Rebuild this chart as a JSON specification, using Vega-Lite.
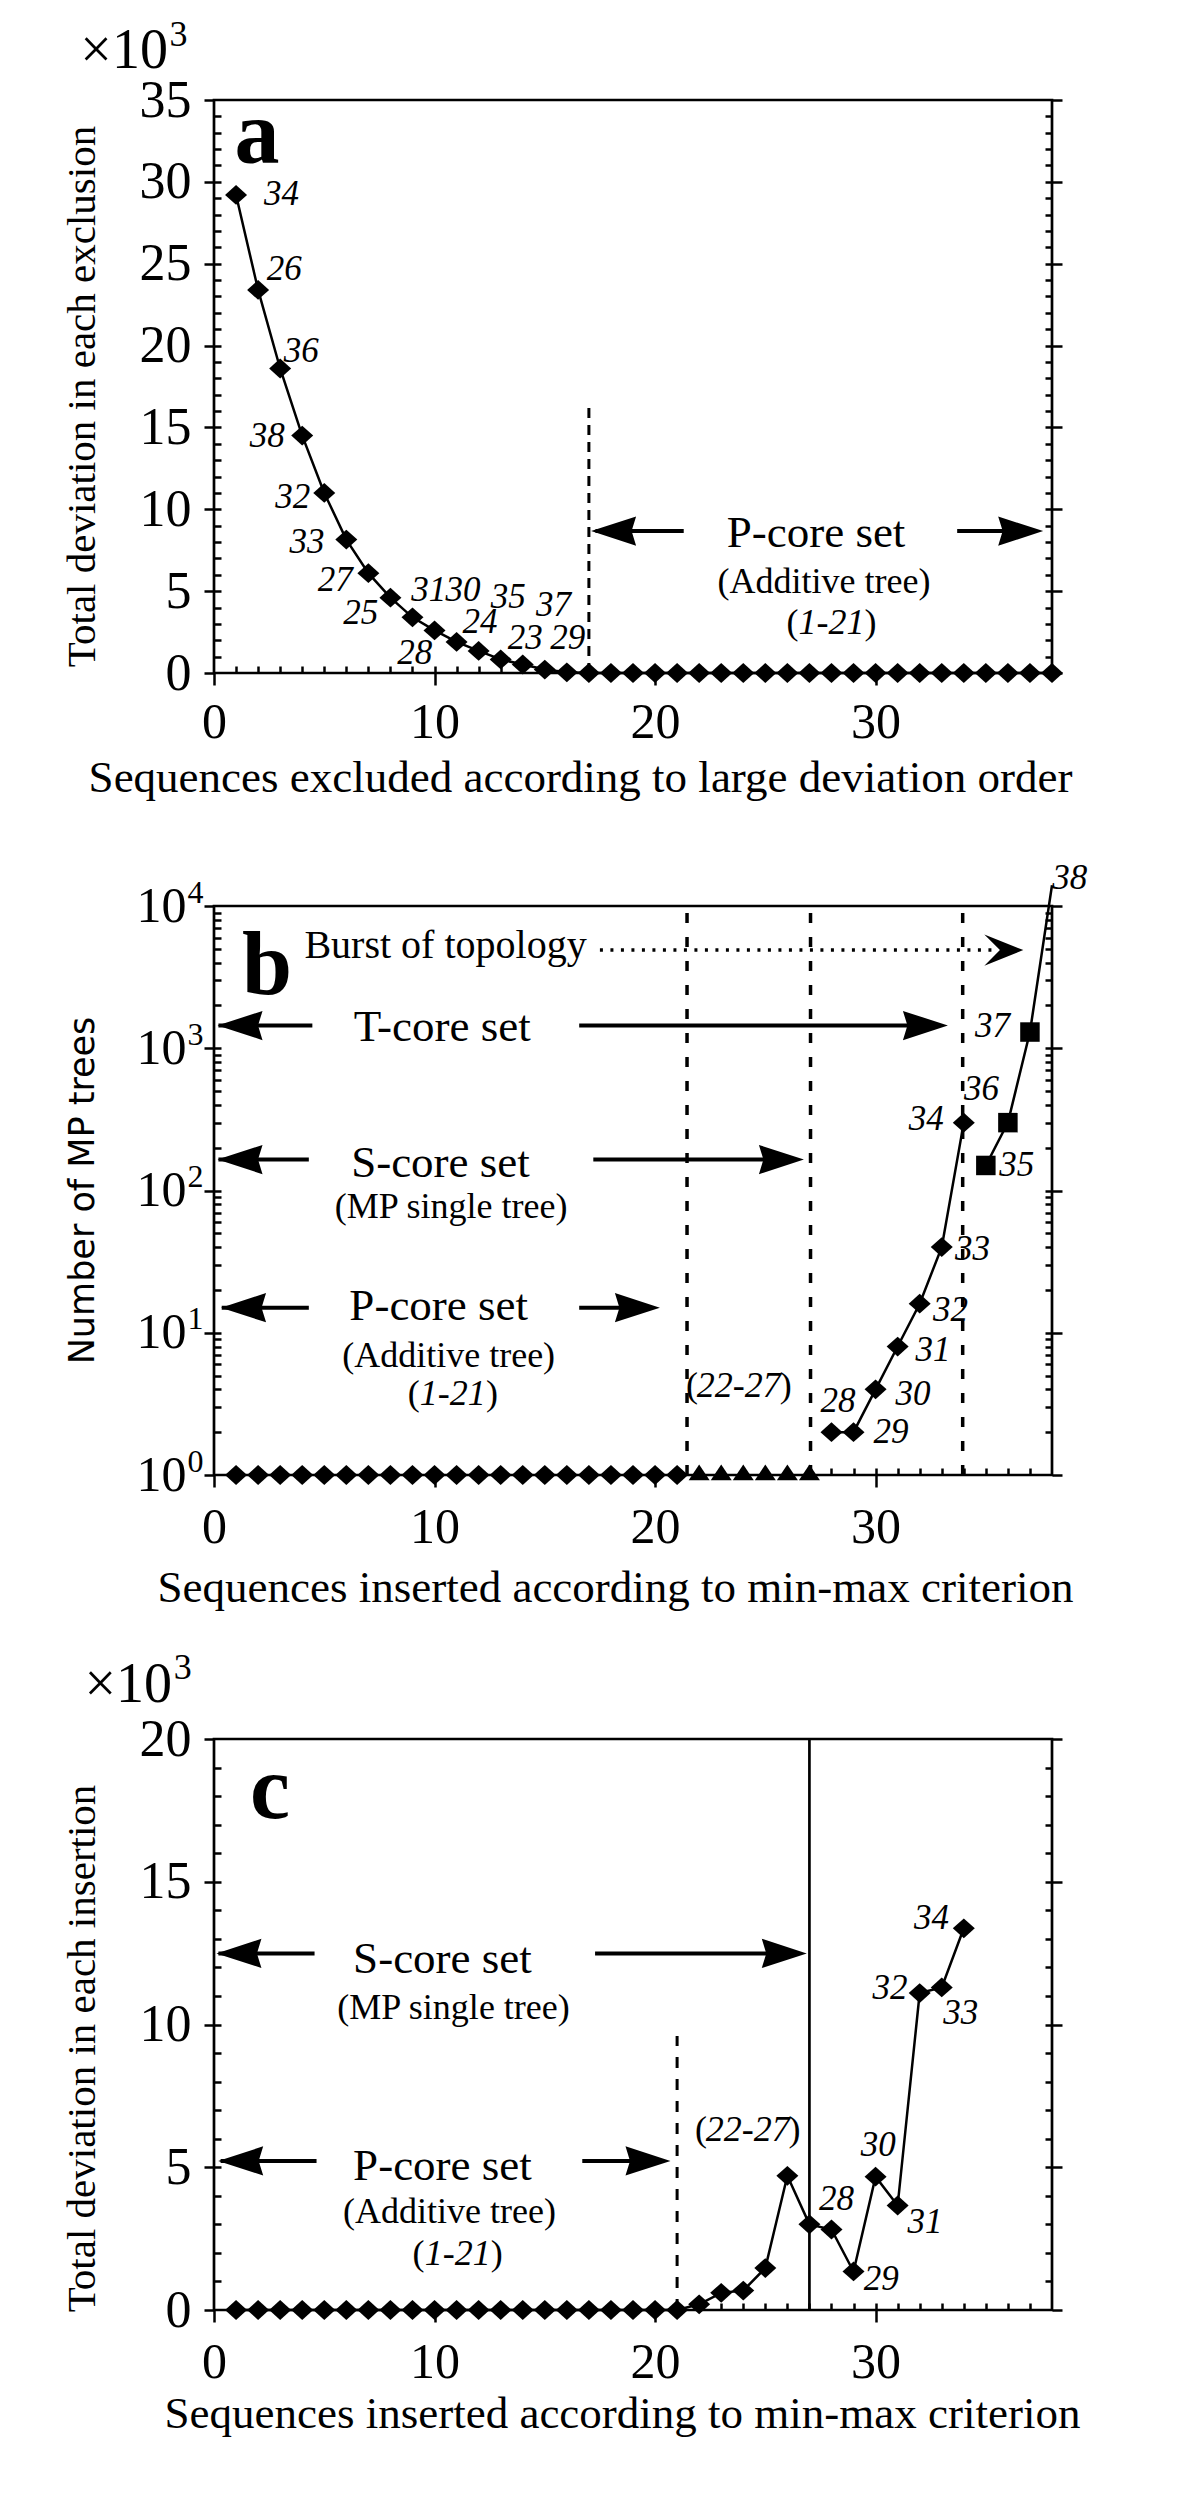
{
  "$schema": "https://vega.github.io/schema/vega-lite/v6.json",
  "autosize": {"type": "none"},
  "padding": {"left": 214, "top": 100, "right": 986, "bottom": 2411},
  "background": "white",
  "config": {
    "view": {"stroke": "black", "strokeWidth": 2.7},
    "axis": {"grid": false, "domain": false, "labelFont": "Liberation Serif", "labelFontSize": 50, "labelColor": "black", "labelFlush": false, "labelOverlap": false, "tickColor": "black", "tickWidth": 2.5, "titleFont": "Liberation Serif", "titleFontWeight": "normal", "titleColor": "black"},
    "text": {"font": "Liberation Serif", "color": "black"}
  },
  "datasets": {
    "a_pts": [
      {"x": 1, "y": 29.2}, {"x": 2, "y": 23.4}, {"x": 3, "y": 18.6}, {"x": 4, "y": 14.5}, {"x": 5, "y": 11.0},
      {"x": 6, "y": 8.15}, {"x": 7, "y": 6.1}, {"x": 8, "y": 4.6}, {"x": 9, "y": 3.4}, {"x": 10, "y": 2.6},
      {"x": 11, "y": 1.9}, {"x": 12, "y": 1.35}, {"x": 13, "y": 0.83}, {"x": 14, "y": 0.52}, {"x": 15, "y": 0.21},
      {"x": 16, "y": 0.04}, {"x": 17, "y": 0}, {"x": 18, "y": 0}, {"x": 19, "y": 0}, {"x": 20, "y": 0},
      {"x": 21, "y": 0}, {"x": 22, "y": 0}, {"x": 23, "y": 0}, {"x": 24, "y": 0}, {"x": 25, "y": 0},
      {"x": 26, "y": 0}, {"x": 27, "y": 0}, {"x": 28, "y": 0}, {"x": 29, "y": 0}, {"x": 30, "y": 0},
      {"x": 31, "y": 0}, {"x": 32, "y": 0}, {"x": 33, "y": 0}, {"x": 34, "y": 0}, {"x": 35, "y": 0},
      {"x": 36, "y": 0}, {"x": 37, "y": 0}, {"x": 38, "y": 0}
    ],
    "a_lbl": [
      {"x": 3.06, "y": 29.27, "t": "34"}, {"x": 3.19, "y": 24.69, "t": "26"}, {"x": 3.96, "y": 19.65, "t": "36"},
      {"x": 2.42, "y": 14.48, "t": "38"}, {"x": 3.57, "y": 10.73, "t": "32"}, {"x": 4.22, "y": 8.03, "t": "33"},
      {"x": 5.5, "y": 5.68, "t": "27"}, {"x": 6.66, "y": 3.69, "t": "25"}, {"x": 9.1, "y": 1.22, "t": "28"},
      {"x": 9.74, "y": 5.09, "t": "31"}, {"x": 11.29, "y": 5.09, "t": "30"}, {"x": 12.06, "y": 3.1, "t": "24"},
      {"x": 13.34, "y": 4.62, "t": "35"}, {"x": 14.11, "y": 2.16, "t": "23"}, {"x": 15.4, "y": 4.15, "t": "37"},
      {"x": 16.04, "y": 2.16, "t": "29"}
    ],
    "b_dia": [
      {"x": 1, "y": 1}, {"x": 2, "y": 1}, {"x": 3, "y": 1}, {"x": 4, "y": 1}, {"x": 5, "y": 1}, {"x": 6, "y": 1},
      {"x": 7, "y": 1}, {"x": 8, "y": 1}, {"x": 9, "y": 1}, {"x": 10, "y": 1}, {"x": 11, "y": 1}, {"x": 12, "y": 1},
      {"x": 13, "y": 1}, {"x": 14, "y": 1}, {"x": 15, "y": 1}, {"x": 16, "y": 1}, {"x": 17, "y": 1}, {"x": 18, "y": 1},
      {"x": 19, "y": 1}, {"x": 20, "y": 1}, {"x": 21, "y": 1},
      {"x": 28, "y": 2}, {"x": 29, "y": 2}, {"x": 30, "y": 4}, {"x": 31, "y": 8}, {"x": 32, "y": 16},
      {"x": 33, "y": 40}, {"x": 34, "y": 300}
    ],
    "b_tri": [{"x": 22, "y": 1}, {"x": 23, "y": 1}, {"x": 24, "y": 1}, {"x": 25, "y": 1}, {"x": 26, "y": 1}, {"x": 27, "y": 1}],
    "b_sq": [{"x": 35, "y": 150}, {"x": 36, "y": 300}, {"x": 37, "y": 1300}, {"x": 38, "y": 14000}],
    "b_lbl": [
      {"x": 28.3, "y": 3.3, "t": "28"}, {"x": 30.7, "y": 2.0, "t": "29"}, {"x": 31.7, "y": 3.7, "t": "30"},
      {"x": 32.6, "y": 7.6, "t": "31"}, {"x": 33.4, "y": 14.5, "t": "32"}, {"x": 34.4, "y": 39, "t": "33"},
      {"x": 32.3, "y": 316, "t": "34"}, {"x": 36.4, "y": 151, "t": "35"}, {"x": 34.8, "y": 513, "t": "36"},
      {"x": 35.3, "y": 1445, "t": "37"}, {"x": 38.8, "y": 15850, "t": "38"}
    ],
    "c_pts": [
      {"x": 1, "y": 0}, {"x": 2, "y": 0}, {"x": 3, "y": 0}, {"x": 4, "y": 0}, {"x": 5, "y": 0}, {"x": 6, "y": 0},
      {"x": 7, "y": 0}, {"x": 8, "y": 0}, {"x": 9, "y": 0}, {"x": 10, "y": 0}, {"x": 11, "y": 0}, {"x": 12, "y": 0},
      {"x": 13, "y": 0}, {"x": 14, "y": 0}, {"x": 15, "y": 0}, {"x": 16, "y": 0}, {"x": 17, "y": 0}, {"x": 18, "y": 0},
      {"x": 19, "y": 0}, {"x": 20, "y": 0}, {"x": 21, "y": 0}, {"x": 22, "y": 0.2}, {"x": 23, "y": 0.6},
      {"x": 24, "y": 0.68}, {"x": 25, "y": 1.47}, {"x": 26, "y": 4.7}, {"x": 27, "y": 3.0}, {"x": 28, "y": 2.82},
      {"x": 29, "y": 1.35}, {"x": 30, "y": 4.67}, {"x": 31, "y": 3.66}, {"x": 32, "y": 11.1}, {"x": 33, "y": 11.3},
      {"x": 34, "y": 13.37}
    ],
    "c_lbl": [
      {"x": 28.23, "y": 3.89, "t": "28"}, {"x": 30.26, "y": 1.07, "t": "29"}, {"x": 30.12, "y": 5.77, "t": "30"},
      {"x": 32.24, "y": 3.07, "t": "31"}, {"x": 30.65, "y": 11.29, "t": "32"}, {"x": 33.86, "y": 10.4, "t": "33"},
      {"x": 32.54, "y": 13.72, "t": "34"}
    ]
  },
  "spacing": 233,
  "bounds": "flush",
  "vconcat": [
    {
      "width": 838,
      "height": 573,
      "resolve": {"axis": {"x": "independent", "y": "independent"}},
      "layer": [
        {
          "data": {"name": "a_pts"},
          "mark": {"type": "line", "color": "black", "strokeWidth": 2.5},
          "encoding": {
            "x": {"field": "x", "type": "quantitative", "scale": {"domain": [0, 38], "nice": false, "zero": false},
              "axis": {"orient": "bottom", "values": [0, 10, 20, 30], "tickSize": 12, "labelPadding": 12, "title": "Sequences excluded according to large deviation order", "titleFontSize": 45, "titleX": 366, "titleY": 118, "titleBaseline": "alphabetic"}},
            "y": {"field": "y", "type": "quantitative", "scale": {"domain": [0, 35], "nice": false, "zero": false},
              "axis": {"orient": "left", "values": [0, 5, 10, 15, 20, 25, 30, 35], "tickSize": 10, "labelPadding": 13, "labelFontSize": 52, "title": "Total deviation in each exclusion", "titleFontSize": 41, "titleX": -132, "titleY": 296, "titleBaseline": "middle", "titleAngle": 270}}
          }
        },
        {
          "data": {"name": "a_pts"},
          "mark": {"type": "point", "shape": "M-1,0L0,-0.9L1,0L0,0.9Z", "filled": true, "size": 484, "color": "black", "opacity": 1},
          "encoding": {
            "x": {"field": "x", "type": "quantitative", "scale": {"domain": [0, 38], "nice": false, "zero": false},
              "axis": {"orient": "bottom", "values": [1,2,3,4,5,6,7,8,9,10,11,12,13,14,15,16,17,18,19,20,21,22,23,24,25,26,27,28,29,30,31,32,33,34,35,36,37], "tickSize": -7, "labels": false, "title": null}},
            "y": {"field": "y", "type": "quantitative", "scale": {"domain": [0, 35], "nice": false, "zero": false},
              "axis": {"orient": "left", "values": [1,2,3,4,5,6,7,8,9,10,11,12,13,14,15,16,17,18,19,20,21,22,23,24,25,26,27,28,29,30,31,32,33,34], "tickSize": -7, "labels": false, "title": null}}
          }
        },
        {
          "data": {"name": "a_lbl"},
          "mark": {"type": "text", "fontStyle": "italic", "fontSize": 35},
          "encoding": {
            "x": {"field": "x", "type": "quantitative", "scale": {"domain": [0, 38], "nice": false, "zero": false}, "axis": null},
            "y": {"field": "y", "type": "quantitative", "scale": {"domain": [0, 35], "nice": false, "zero": false},
              "axis": {"orient": "right", "values": [0, 5, 10, 15, 20, 25, 30, 35], "tickSize": 10, "labels": false, "title": null}},
            "text": {"field": "t"}
          }
        },
        {
          "data": {"values": [{"x": 17, "y": 0, "y2": 16.36}]},
          "mark": {"type": "rule", "color": "black", "strokeWidth": 3, "strokeDash": [10, 7]},
          "encoding": {
            "x": {"field": "x", "type": "quantitative", "scale": {"domain": [0, 38], "nice": false, "zero": false}, "axis": null},
            "y": {"field": "y", "type": "quantitative", "scale": {"domain": [0, 35], "nice": false, "zero": false},
              "axis": {"orient": "right", "values": [1,2,3,4,5,6,7,8,9,10,11,12,13,14,15,16,17,18,19,20,21,22,23,24,25,26,27,28,29,30,31,32,33,34], "tickSize": -7, "labels": false, "title": null}},
            "y2": {"field": "y2"}
          }
        },
        {
          "data": {"values": [{"x": 17.3, "x2": 21.3, "y": 8.67}, {"x": 33.7, "x2": 37.0, "y": 8.67}]},
          "mark": {"type": "rule", "color": "black", "strokeWidth": 4},
          "encoding": {
            "x": {"field": "x", "type": "quantitative", "scale": {"domain": [0, 38], "nice": false, "zero": false}, "axis": null},
            "x2": {"field": "x2"},
            "y": {"field": "y", "type": "quantitative", "scale": {"domain": [0, 35], "nice": false, "zero": false}, "axis": null}
          }
        },
        {
          "data": {"values": [{"x": 17.1, "y": 8.67}]},
          "mark": {"type": "point", "shape": "M0,0L2,-0.65L1.8,0L2,0.65Z", "filled": true, "size": 2025, "color": "black", "opacity": 1},
          "encoding": {
            "x": {"field": "x", "type": "quantitative", "scale": {"domain": [0, 38], "nice": false, "zero": false}, "axis": null},
            "y": {"field": "y", "type": "quantitative", "scale": {"domain": [0, 35], "nice": false, "zero": false}, "axis": null}
          }
        },
        {
          "data": {"values": [{"x": 37.6, "y": 8.67}]},
          "mark": {"type": "point", "shape": "M0,0L-2,-0.65L-1.8,0L-2,0.65Z", "filled": true, "size": 2025, "color": "black", "opacity": 1},
          "encoding": {
            "x": {"field": "x", "type": "quantitative", "scale": {"domain": [0, 38], "nice": false, "zero": false}, "axis": null},
            "y": {"field": "y", "type": "quantitative", "scale": {"domain": [0, 35], "nice": false, "zero": false}, "axis": null}
          }
        },
        {
          "data": {"values": [{"x": 27.3, "y": 8.55, "t": "P-core set"}]},
          "mark": {"type": "text", "fontSize": 45},
          "encoding": {
            "x": {"field": "x", "type": "quantitative", "scale": {"domain": [0, 38], "nice": false, "zero": false}, "axis": null},
            "y": {"field": "y", "type": "quantitative", "scale": {"domain": [0, 35], "nice": false, "zero": false}, "axis": null},
            "text": {"field": "t"}
          }
        },
        {
          "data": {"values": [{"x": 27.66, "y": 5.58, "t": "(Additive tree)"}]},
          "mark": {"type": "text", "fontSize": 36},
          "encoding": {
            "x": {"field": "x", "type": "quantitative", "scale": {"domain": [0, 38], "nice": false, "zero": false}, "axis": null},
            "y": {"field": "y", "type": "quantitative", "scale": {"domain": [0, 35], "nice": false, "zero": false}, "axis": null},
            "text": {"field": "t"}
          }
        },
        {
          "data": {"values": [{"x": 28.0, "y": 3.05, "t": "1-21"}]},
          "mark": {"type": "text", "fontSize": 36, "fontStyle": "italic"},
          "encoding": {
            "x": {"field": "x", "type": "quantitative", "scale": {"domain": [0, 38], "nice": false, "zero": false}, "axis": null},
            "y": {"field": "y", "type": "quantitative", "scale": {"domain": [0, 35], "nice": false, "zero": false}, "axis": null},
            "text": {"field": "t"}
          }
        },
        {
          "data": {"values": [{"x": 26.5, "y": 3.05, "t": "("}]},
          "mark": {"type": "text", "fontSize": 36, "align": "right"},
          "encoding": {
            "x": {"field": "x", "type": "quantitative", "scale": {"domain": [0, 38], "nice": false, "zero": false}, "axis": null},
            "y": {"field": "y", "type": "quantitative", "scale": {"domain": [0, 35], "nice": false, "zero": false}, "axis": null},
            "text": {"field": "t"}
          }
        },
        {
          "data": {"values": [{"x": 29.5, "y": 3.05, "t": ")"}]},
          "mark": {"type": "text", "fontSize": 36, "align": "left"},
          "encoding": {
            "x": {"field": "x", "type": "quantitative", "scale": {"domain": [0, 38], "nice": false, "zero": false}, "axis": null},
            "y": {"field": "y", "type": "quantitative", "scale": {"domain": [0, 35], "nice": false, "zero": false}, "axis": null},
            "text": {"field": "t"}
          }
        },
        {
          "data": {"values": [{"x": 1.95, "y": 31.15, "t": "a"}]},
          "mark": {"type": "text", "fontSize": 90, "fontWeight": "bold", "baseline": "alphabetic"},
          "encoding": {
            "x": {"field": "x", "type": "quantitative", "scale": {"domain": [0, 38], "nice": false, "zero": false}, "axis": null},
            "y": {"field": "y", "type": "quantitative", "scale": {"domain": [0, 35], "nice": false, "zero": false}, "axis": null},
            "text": {"field": "t"}
          }
        },
        {
          "data": {"values": [{"x": -2.09, "y": 36.96, "t": "×10"}]},
          "mark": {"type": "text", "fontSize": 56, "baseline": "alphabetic", "align": "right"},
          "encoding": {
            "x": {"field": "x", "type": "quantitative", "scale": {"domain": [0, 38], "nice": false, "zero": false}, "axis": null},
            "y": {"field": "y", "type": "quantitative", "scale": {"domain": [0, 35], "nice": false, "zero": false}, "axis": null},
            "text": {"field": "t"}
          }
        },
        {
          "data": {"values": [{"x": -2.02, "y": 38.3, "t": "3"}]},
          "mark": {"type": "text", "fontSize": 36, "baseline": "alphabetic", "align": "left"},
          "encoding": {
            "x": {"field": "x", "type": "quantitative", "scale": {"domain": [0, 38], "nice": false, "zero": false}, "axis": null},
            "y": {"field": "y", "type": "quantitative", "scale": {"domain": [0, 35], "nice": false, "zero": false}, "axis": null},
            "text": {"field": "t"}
          }
        }
      ]
    },
    {
      "spacing": 264,
      "bounds": "flush",
      "vconcat": [
        {
          "width": 838,
          "height": 569,
          "resolve": {"axis": {"x": "independent", "y": "independent"}},
          "layer": [
            {
              "data": {"name": "b_dia"},
              "transform": [{"filter": "datum.x >= 28"}],
              "mark": {"type": "line", "color": "black", "strokeWidth": 2.5},
              "encoding": {
                "x": {"field": "x", "type": "quantitative", "scale": {"domain": [0, 38], "nice": false, "zero": false},
                  "axis": {"orient": "bottom", "values": [0, 10, 20, 30], "tickSize": 12, "labelPadding": 15, "title": "Sequences inserted according to min-max criterion", "titleFontSize": 45, "titleX": 401, "titleY": 126, "titleBaseline": "alphabetic"}},
                "y": {"field": "y", "type": "quantitative", "scale": {"type": "log", "domain": [1, 10000], "nice": false},
                  "axis": {"orient": "left", "values": [1, 10, 100, 1000, 10000], "tickSize": 10, "labelPadding": 18, "labelFontSize": 50, "labelExpr": "'10'", "title": "Number of MP trees", "titleFont": "DejaVu Sans", "titleFontSize": 35, "titleX": -132, "titleY": 284, "titleBaseline": "middle", "titleAngle": 270}}
              }
            },
            {
              "data": {"name": "b_sq"},
              "mark": {"type": "line", "color": "black", "strokeWidth": 2.5},
              "encoding": {
                "x": {"field": "x", "type": "quantitative", "scale": {"domain": [0, 38], "nice": false, "zero": false},
                  "axis": {"orient": "bottom", "values": [1,2,3,4,5,6,7,8,9,10,11,12,13,14,15,16,17,18,19,20,21,22,23,24,25,26,27,28,29,30,31,32,33,34,35,36,37], "tickSize": -7, "labels": false, "title": null}},
                "y": {"field": "y", "type": "quantitative", "scale": {"type": "log", "domain": [1, 10000], "nice": false},
                  "axis": {"orient": "left", "values": [2,3,4,5,6,7,8,9,10,20,30,40,50,60,70,80,90,100,200,300,400,500,600,700,800,900,1000,2000,3000,4000,5000,6000,7000,8000,9000], "tickSize": -7, "labels": false, "title": null}}
              }
            },
            {
              "data": {"name": "b_dia"},
              "mark": {"type": "point", "shape": "M-1,0L0,-0.9L1,0L0,0.9Z", "filled": true, "size": 484, "color": "black", "opacity": 1},
              "encoding": {
                "x": {"field": "x", "type": "quantitative", "scale": {"domain": [0, 38], "nice": false, "zero": false}, "axis": null},
                "y": {"field": "y", "type": "quantitative", "scale": {"type": "log", "domain": [1, 10000], "nice": false},
                  "axis": {"orient": "right", "values": [1, 10, 100, 1000, 10000], "tickSize": 10, "labels": false, "title": null}}
              }
            },
            {
              "data": {"name": "b_tri"},
              "mark": {"type": "point", "shape": "M0,-1L1,0.5L-1,0.5Z", "filled": true, "size": 441, "color": "black", "opacity": 1},
              "encoding": {
                "x": {"field": "x", "type": "quantitative", "scale": {"domain": [0, 38], "nice": false, "zero": false}, "axis": null},
                "y": {"field": "y", "type": "quantitative", "scale": {"type": "log", "domain": [1, 10000], "nice": false},
                  "axis": {"orient": "right", "values": [2,3,4,5,6,7,8,9,10,20,30,40,50,60,70,80,90,100,200,300,400,500,600,700,800,900,1000,2000,3000,4000,5000,6000,7000,8000,9000], "tickSize": -7, "labels": false, "title": null}}
              }
            },
            {
              "data": {"name": "b_sq"},
              "transform": [{"filter": "datum.x <= 37"}],
              "mark": {"type": "point", "shape": "square", "filled": true, "size": 380, "color": "black", "opacity": 1},
              "encoding": {
                "x": {"field": "x", "type": "quantitative", "scale": {"domain": [0, 38], "nice": false, "zero": false}, "axis": null},
                "y": {"field": "y", "type": "quantitative", "scale": {"type": "log", "domain": [1, 10000], "nice": false},
                  "axis": {"orient": "left", "values": [1, 10, 100, 1000, 10000], "ticks": true, "tickSize": 0, "tickOpacity": 0, "labelPadding": 11, "labelFontSize": 32, "labelOffset": -14, "labelExpr": "datum.value == 1 ? '0' : datum.value == 10 ? '1' : datum.value == 100 ? '2' : datum.value == 1000 ? '3' : '4'", "title": null}}
              }
            },
            {
              "data": {"values": [{"x": 21.45, "y": 1, "y2": 10000}, {"x": 27.05, "y": 1, "y2": 10000}, {"x": 33.95, "y": 1, "y2": 10000}]},
              "mark": {"type": "rule", "color": "black", "strokeWidth": 3.5, "strokeDash": [10, 14]},
              "encoding": {
                "x": {"field": "x", "type": "quantitative", "scale": {"domain": [0, 38], "nice": false, "zero": false}, "axis": null},
                "y": {"field": "y", "type": "quantitative", "scale": {"type": "log", "domain": [1, 10000], "nice": false}, "axis": null},
                "y2": {"field": "y2"}
              }
            },
            {
              "data": {"values": [
                {"x": 0.2, "x2": 4.46, "y": 1445}, {"x": 16.56, "x2": 32.5, "y": 1445},
                {"x": 0.2, "x2": 4.3, "y": 165}, {"x": 17.2, "x2": 26.0, "y": 165},
                {"x": 0.35, "x2": 4.3, "y": 15}, {"x": 16.56, "x2": 19.5, "y": 15}
              ]},
              "mark": {"type": "rule", "color": "black", "strokeWidth": 4},
              "encoding": {
                "x": {"field": "x", "type": "quantitative", "scale": {"domain": [0, 38], "nice": false, "zero": false}, "axis": null},
                "x2": {"field": "x2"},
                "y": {"field": "y", "type": "quantitative", "scale": {"type": "log", "domain": [1, 10000], "nice": false}, "axis": null}
              }
            },
            {
              "data": {"values": [{"x": 17.5, "x2": 35.55, "y": 4900}]},
              "mark": {"type": "rule", "color": "black", "strokeWidth": 3.5, "strokeDash": [3, 7.5]},
              "encoding": {
                "x": {"field": "x", "type": "quantitative", "scale": {"domain": [0, 38], "nice": false, "zero": false}, "axis": null},
                "x2": {"field": "x2"},
                "y": {"field": "y", "type": "quantitative", "scale": {"type": "log", "domain": [1, 10000], "nice": false}, "axis": null}
              }
            },
            {
              "data": {"values": [{"x": 0.16, "y": 1445}, {"x": 0.16, "y": 165}, {"x": 0.32, "y": 15}]},
              "mark": {"type": "point", "shape": "M0,0L2,-0.65L1.8,0L2,0.65Z", "filled": true, "size": 2025, "color": "black", "opacity": 1},
              "encoding": {
                "x": {"field": "x", "type": "quantitative", "scale": {"domain": [0, 38], "nice": false, "zero": false}, "axis": null},
                "y": {"field": "y", "type": "quantitative", "scale": {"type": "log", "domain": [1, 10000], "nice": false}, "axis": null}
              }
            },
            {
              "data": {"values": [{"x": 33.28, "y": 1445}, {"x": 26.75, "y": 165}, {"x": 20.22, "y": 15}]},
              "mark": {"type": "point", "shape": "M0,0L-2,-0.65L-1.8,0L-2,0.65Z", "filled": true, "size": 2025, "color": "black", "opacity": 1},
              "encoding": {
                "x": {"field": "x", "type": "quantitative", "scale": {"domain": [0, 38], "nice": false, "zero": false}, "axis": null},
                "y": {"field": "y", "type": "quantitative", "scale": {"type": "log", "domain": [1, 10000], "nice": false}, "axis": null}
              }
            },
            {
              "data": {"values": [{"x": 36.7, "y": 4900}]},
              "mark": {"type": "point", "shape": "M0,0L-2,-0.8L-1.2,0L-2,0.8Z", "filled": true, "size": 1521, "color": "black", "opacity": 1},
              "encoding": {
                "x": {"field": "x", "type": "quantitative", "scale": {"domain": [0, 38], "nice": false, "zero": false}, "axis": null},
                "y": {"field": "y", "type": "quantitative", "scale": {"type": "log", "domain": [1, 10000], "nice": false}, "axis": null}
              }
            },
            {
              "data": {"name": "b_lbl"},
              "mark": {"type": "text", "fontStyle": "italic", "fontSize": 35},
              "encoding": {
                "x": {"field": "x", "type": "quantitative", "scale": {"domain": [0, 38], "nice": false, "zero": false}, "axis": null},
                "y": {"field": "y", "type": "quantitative", "scale": {"type": "log", "domain": [1, 10000], "nice": false}, "axis": null},
                "text": {"field": "t"}
              }
            },
            {
              "data": {"values": [{"x": 10.35, "y": 1422, "t": "T-core set"}, {"x": 10.27, "y": 157, "t": "S-core set"}, {"x": 10.19, "y": 15.3, "t": "P-core set"}]},
              "mark": {"type": "text", "fontSize": 45},
              "encoding": {
                "x": {"field": "x", "type": "quantitative", "scale": {"domain": [0, 38], "nice": false, "zero": false}, "axis": null},
                "y": {"field": "y", "type": "quantitative", "scale": {"type": "log", "domain": [1, 10000], "nice": false}, "axis": null},
                "text": {"field": "t"}
              }
            },
            {
              "data": {"values": [{"x": 10.5, "y": 5200, "t": "Burst of topology"}]},
              "mark": {"type": "text", "fontSize": 40},
              "encoding": {
                "x": {"field": "x", "type": "quantitative", "scale": {"domain": [0, 38], "nice": false, "zero": false}, "axis": null},
                "y": {"field": "y", "type": "quantitative", "scale": {"type": "log", "domain": [1, 10000], "nice": false}, "axis": null},
                "text": {"field": "t"}
              }
            },
            {
              "data": {"values": [{"x": 10.75, "y": 77, "t": "(MP single tree)"}, {"x": 10.64, "y": 6.87, "t": "(Additive tree)"}]},
              "mark": {"type": "text", "fontSize": 36},
              "encoding": {
                "x": {"field": "x", "type": "quantitative", "scale": {"domain": [0, 38], "nice": false, "zero": false}, "axis": null},
                "y": {"field": "y", "type": "quantitative", "scale": {"type": "log", "domain": [1, 10000], "nice": false}, "axis": null},
                "text": {"field": "t"}
              }
            },
            {
              "data": {"values": [{"x": 10.83, "y": 3.71, "t": "1-21"}, {"x": 23.8, "y": 4.2, "t": "22-27"}]},
              "mark": {"type": "text", "fontSize": 36, "fontStyle": "italic"},
              "encoding": {
                "x": {"field": "x", "type": "quantitative", "scale": {"domain": [0, 38], "nice": false, "zero": false}, "axis": null},
                "y": {"field": "y", "type": "quantitative", "scale": {"type": "log", "domain": [1, 10000], "nice": false}, "axis": null},
                "text": {"field": "t"}
              }
            },
            {
              "data": {"values": [{"x": 9.33, "y": 3.71, "t": "("}, {"x": 21.95, "y": 4.2, "t": "("}]},
              "mark": {"type": "text", "fontSize": 36, "align": "right"},
              "encoding": {
                "x": {"field": "x", "type": "quantitative", "scale": {"domain": [0, 38], "nice": false, "zero": false}, "axis": null},
                "y": {"field": "y", "type": "quantitative", "scale": {"type": "log", "domain": [1, 10000], "nice": false}, "axis": null},
                "text": {"field": "t"}
              }
            },
            {
              "data": {"values": [{"x": 12.33, "y": 3.71, "t": ")"}, {"x": 25.65, "y": 4.2, "t": ")"}]},
              "mark": {"type": "text", "fontSize": 36, "align": "left"},
              "encoding": {
                "x": {"field": "x", "type": "quantitative", "scale": {"domain": [0, 38], "nice": false, "zero": false}, "axis": null},
                "y": {"field": "y", "type": "quantitative", "scale": {"type": "log", "domain": [1, 10000], "nice": false}, "axis": null},
                "text": {"field": "t"}
              }
            },
            {
              "data": {"values": [{"x": 2.4, "y": 2400, "t": "b"}]},
              "mark": {"type": "text", "fontSize": 90, "fontWeight": "bold", "baseline": "alphabetic"},
              "encoding": {
                "x": {"field": "x", "type": "quantitative", "scale": {"domain": [0, 38], "nice": false, "zero": false}, "axis": null},
                "y": {"field": "y", "type": "quantitative", "scale": {"type": "log", "domain": [1, 10000], "nice": false}, "axis": null},
                "text": {"field": "t"}
              }
            }
          ]
        },
        {
          "width": 838,
          "height": 571,
          "resolve": {"axis": {"x": "independent", "y": "independent"}},
          "layer": [
            {
              "data": {"name": "c_pts"},
              "mark": {"type": "line", "color": "black", "strokeWidth": 2.5},
              "encoding": {
                "x": {"field": "x", "type": "quantitative", "scale": {"domain": [0, 38], "nice": false, "zero": false},
                  "axis": {"orient": "bottom", "values": [0, 10, 20, 30], "tickSize": 12, "labelPadding": 15, "title": "Sequences inserted according to min-max criterion", "titleFontSize": 45, "titleX": 408, "titleY": 117, "titleBaseline": "alphabetic"}},
                "y": {"field": "y", "type": "quantitative", "scale": {"domain": [0, 20], "nice": false, "zero": false},
                  "axis": {"orient": "left", "values": [0, 5, 10, 15, 20], "tickSize": 10, "labelPadding": 13, "labelFontSize": 52, "title": "Total deviation in each insertion", "titleFontSize": 41, "titleX": -132, "titleY": 309, "titleBaseline": "middle", "titleAngle": 270}}
              }
            },
            {
              "data": {"name": "c_pts"},
              "mark": {"type": "point", "shape": "M-1,0L0,-0.9L1,0L0,0.9Z", "filled": true, "size": 484, "color": "black", "opacity": 1},
              "encoding": {
                "x": {"field": "x", "type": "quantitative", "scale": {"domain": [0, 38], "nice": false, "zero": false},
                  "axis": {"orient": "bottom", "values": [1,2,3,4,5,6,7,8,9,10,11,12,13,14,15,16,17,18,19,20,21,22,23,24,25,26,27,28,29,30,31,32,33,34,35,36,37], "tickSize": -7, "labels": false, "title": null}},
                "y": {"field": "y", "type": "quantitative", "scale": {"domain": [0, 20], "nice": false, "zero": false},
                  "axis": {"orient": "left", "values": [1,2,3,4,5,6,7,8,9,10,11,12,13,14,15,16,17,18,19], "tickSize": -7, "labels": false, "title": null}}
              }
            },
            {
              "data": {"name": "c_lbl"},
              "mark": {"type": "text", "fontStyle": "italic", "fontSize": 35},
              "encoding": {
                "x": {"field": "x", "type": "quantitative", "scale": {"domain": [0, 38], "nice": false, "zero": false}, "axis": null},
                "y": {"field": "y", "type": "quantitative", "scale": {"domain": [0, 20], "nice": false, "zero": false},
                  "axis": {"orient": "right", "values": [0, 5, 10, 15, 20], "tickSize": 10, "labels": false, "title": null}},
                "text": {"field": "t"}
              }
            },
            {
              "data": {"values": [{"x": 21, "y": 0, "y2": 9.6}]},
              "mark": {"type": "rule", "color": "black", "strokeWidth": 3, "strokeDash": [11, 11]},
              "encoding": {
                "x": {"field": "x", "type": "quantitative", "scale": {"domain": [0, 38], "nice": false, "zero": false}, "axis": null},
                "y": {"field": "y", "type": "quantitative", "scale": {"domain": [0, 20], "nice": false, "zero": false},
                  "axis": {"orient": "right", "values": [1,2,3,4,5,6,7,8,9,10,11,12,13,14,15,16,17,18,19], "tickSize": -7, "labels": false, "title": null}},
                "y2": {"field": "y2"}
              }
            },
            {
              "data": {"values": [{"x": 27, "y": 0, "y2": 20}]},
              "mark": {"type": "rule", "color": "black", "strokeWidth": 2.7},
              "encoding": {
                "x": {"field": "x", "type": "quantitative", "scale": {"domain": [0, 38], "nice": false, "zero": false}, "axis": null},
                "y": {"field": "y", "type": "quantitative", "scale": {"domain": [0, 20], "nice": false, "zero": false}, "axis": null},
                "y2": {"field": "y2"}
              }
            },
            {
              "data": {"values": [
                {"x": 0.2, "x2": 4.56, "y": 12.49}, {"x": 17.28, "x2": 26.4, "y": 12.49},
                {"x": 0.3, "x2": 4.65, "y": 5.22}, {"x": 16.7, "x2": 20.2, "y": 5.22}
              ]},
              "mark": {"type": "rule", "color": "black", "strokeWidth": 4},
              "encoding": {
                "x": {"field": "x", "type": "quantitative", "scale": {"domain": [0, 38], "nice": false, "zero": false}, "axis": null},
                "x2": {"field": "x2"},
                "y": {"field": "y", "type": "quantitative", "scale": {"domain": [0, 20], "nice": false, "zero": false}, "axis": null}
              }
            },
            {
              "data": {"values": [{"x": 0.11, "y": 12.49}, {"x": 0.19, "y": 5.22}]},
              "mark": {"type": "point", "shape": "M0,0L2,-0.65L1.8,0L2,0.65Z", "filled": true, "size": 2025, "color": "black", "opacity": 1},
              "encoding": {
                "x": {"field": "x", "type": "quantitative", "scale": {"domain": [0, 38], "nice": false, "zero": false}, "axis": null},
                "y": {"field": "y", "type": "quantitative", "scale": {"domain": [0, 20], "nice": false, "zero": false}, "axis": null}
              }
            },
            {
              "data": {"values": [{"x": 26.88, "y": 12.49}, {"x": 20.7, "y": 5.22}]},
              "mark": {"type": "point", "shape": "M0,0L-2,-0.65L-1.8,0L-2,0.65Z", "filled": true, "size": 2025, "color": "black", "opacity": 1},
              "encoding": {
                "x": {"field": "x", "type": "quantitative", "scale": {"domain": [0, 38], "nice": false, "zero": false}, "axis": null},
                "y": {"field": "y", "type": "quantitative", "scale": {"domain": [0, 20], "nice": false, "zero": false}, "axis": null}
              }
            },
            {
              "data": {"values": [{"x": 10.36, "y": 12.3, "t": "S-core set"}, {"x": 10.36, "y": 5.05, "t": "P-core set"}]},
              "mark": {"type": "text", "fontSize": 45},
              "encoding": {
                "x": {"field": "x", "type": "quantitative", "scale": {"domain": [0, 38], "nice": false, "zero": false}, "axis": null},
                "y": {"field": "y", "type": "quantitative", "scale": {"domain": [0, 20], "nice": false, "zero": false}, "axis": null},
                "text": {"field": "t"}
              }
            },
            {
              "data": {"values": [{"x": 10.86, "y": 10.59, "t": "(MP single tree)"}, {"x": 10.68, "y": 3.42, "t": "(Additive tree)"}]},
              "mark": {"type": "text", "fontSize": 36},
              "encoding": {
                "x": {"field": "x", "type": "quantitative", "scale": {"domain": [0, 38], "nice": false, "zero": false}, "axis": null},
                "y": {"field": "y", "type": "quantitative", "scale": {"domain": [0, 20], "nice": false, "zero": false}, "axis": null},
                "text": {"field": "t"}
              }
            },
            {
              "data": {"values": [{"x": 11.05, "y": 1.96, "t": "1-21"}, {"x": 24.2, "y": 6.32, "t": "22-27"}]},
              "mark": {"type": "text", "fontSize": 36, "fontStyle": "italic"},
              "encoding": {
                "x": {"field": "x", "type": "quantitative", "scale": {"domain": [0, 38], "nice": false, "zero": false}, "axis": null},
                "y": {"field": "y", "type": "quantitative", "scale": {"domain": [0, 20], "nice": false, "zero": false}, "axis": null},
                "text": {"field": "t"}
              }
            },
            {
              "data": {"values": [{"x": 9.55, "y": 1.96, "t": "("}, {"x": 22.35, "y": 6.32, "t": "("}]},
              "mark": {"type": "text", "fontSize": 36, "align": "right"},
              "encoding": {
                "x": {"field": "x", "type": "quantitative", "scale": {"domain": [0, 38], "nice": false, "zero": false}, "axis": null},
                "y": {"field": "y", "type": "quantitative", "scale": {"domain": [0, 20], "nice": false, "zero": false}, "axis": null},
                "text": {"field": "t"}
              }
            },
            {
              "data": {"values": [{"x": 12.55, "y": 1.96, "t": ")"}, {"x": 26.05, "y": 6.32, "t": ")"}]},
              "mark": {"type": "text", "fontSize": 36, "align": "left"},
              "encoding": {
                "x": {"field": "x", "type": "quantitative", "scale": {"domain": [0, 38], "nice": false, "zero": false}, "axis": null},
                "y": {"field": "y", "type": "quantitative", "scale": {"domain": [0, 20], "nice": false, "zero": false}, "axis": null},
                "text": {"field": "t"}
              }
            },
            {
              "data": {"values": [{"x": 2.54, "y": 17.23, "t": "c"}]},
              "mark": {"type": "text", "fontSize": 90, "fontWeight": "bold", "baseline": "alphabetic"},
              "encoding": {
                "x": {"field": "x", "type": "quantitative", "scale": {"domain": [0, 38], "nice": false, "zero": false}, "axis": null},
                "y": {"field": "y", "type": "quantitative", "scale": {"domain": [0, 20], "nice": false, "zero": false}, "axis": null},
                "text": {"field": "t"}
              }
            },
            {
              "data": {"values": [{"x": -1.9, "y": 21.31, "t": "×10"}]},
              "mark": {"type": "text", "fontSize": 56, "baseline": "alphabetic", "align": "right"},
              "encoding": {
                "x": {"field": "x", "type": "quantitative", "scale": {"domain": [0, 38], "nice": false, "zero": false}, "axis": null},
                "y": {"field": "y", "type": "quantitative", "scale": {"domain": [0, 20], "nice": false, "zero": false}, "axis": null},
                "text": {"field": "t"}
              }
            },
            {
              "data": {"values": [{"x": -1.83, "y": 22.1, "t": "3"}]},
              "mark": {"type": "text", "fontSize": 36, "baseline": "alphabetic", "align": "left"},
              "encoding": {
                "x": {"field": "x", "type": "quantitative", "scale": {"domain": [0, 38], "nice": false, "zero": false}, "axis": null},
                "y": {"field": "y", "type": "quantitative", "scale": {"domain": [0, 20], "nice": false, "zero": false}, "axis": null},
                "text": {"field": "t"}
              }
            }
          ]
        }
      ]
    }
  ]
}
